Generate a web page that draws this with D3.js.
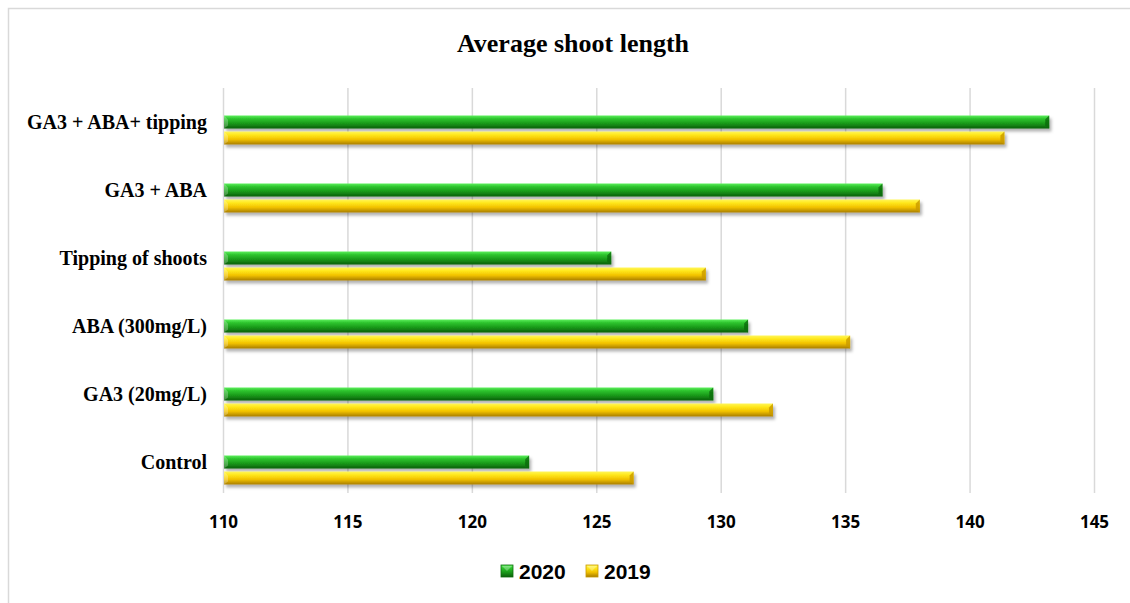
<!DOCTYPE html>
<html>
<head>
<meta charset="utf-8">
<script src="https://cdn.jsdelivr.net/npm/d3@7"></script>
<style>
  body { margin: 0; background: #fff; }
  svg { display: block; }
</style>
</head>
<body>
<svg id="chart"></svg>
<script>
const categories = ["GA3 + ABA+ tipping", "GA3 + ABA", "Tipping of shoots", "ABA (300mg/L)", "GA3 (20mg/L)", "Control"];
const values2020 = [143.2, 136.5, 125.6, 131.1, 129.7, 122.3];
const values2019 = [141.4, 138.0, 129.4, 135.2, 132.1, 126.5];
const xTicks = [110, 115, 120, 125, 130, 135, 140, 145];
const seriesNames = ["2020", "2019"];

const width = 1130;
const height = 603;
const margin = { top: 88, right: 36, bottom: 110, left: 223 };
const innerWidth = width - margin.left - margin.right;
const innerHeight = height - margin.top - margin.bottom;

const svg = d3.select("#chart").attr("width", width).attr("height", height);

// gradients for the shiny bars
const defs = svg.append("defs");
const grads = {
  g2020: [["0%", "#5ef05e"], ["25%", "#2cc42c"], ["60%", "#1a9a1a"], ["100%", "#0b5f0b"]],
  g2019: [["0%", "#fff65a"], ["25%", "#ffe81c"], ["60%", "#f2c200"], ["100%", "#a87d00"]]
};
Object.entries(grads).forEach(([id, stops]) => {
  const lg = defs.append("linearGradient").attr("id", id)
    .attr("x1", 0).attr("y1", 0).attr("x2", 0).attr("y2", 1);
  stops.forEach(([o, c]) => lg.append("stop").attr("offset", o).attr("stop-color", c));
});
defs.append("filter").attr("id", "shadow")
  .attr("x", "-5%").attr("y", "-50%").attr("width", "110%").attr("height", "220%")
  .append("feDropShadow")
  .attr("dx", 2).attr("dy", 3).attr("stdDeviation", 1.6)
  .attr("flood-color", "#000").attr("flood-opacity", 0.3);

// chart frame (runs off the right and bottom edge like the reference)
svg.append("path")
  .attr("d", `M8.5,${height} L8.5,8.5 L${width},8.5`)
  .attr("fill", "none").attr("stroke", "#d9d9d9").attr("stroke-width", 1.5);

svg.append("text")
  .attr("x", 573).attr("y", 52)
  .attr("text-anchor", "middle")
  .attr("font-family", "'Liberation Serif', 'Times New Roman', serif")
  .attr("font-weight", "bold")
  .attr("font-size", 26)
  .text("Average shoot length");

const x = d3.scaleLinear().domain([110, 145]).range([0, innerWidth]);
const y = d3.scaleBand().domain(categories).range([8, 416]).paddingInner(0).paddingOuter(0);

const g = svg.append("g").attr("transform", `translate(${margin.left},${margin.top})`);

// gridlines
const xAxis = d3.axisBottom(x).tickValues(xTicks).tickSize(-innerHeight).tickPadding(23).tickFormat(d => d);
const xAxisG = g.append("g").attr("transform", `translate(0,${innerHeight})`).call(xAxis);
xAxisG.select(".domain").remove();
xAxisG.selectAll(".tick line").attr("stroke", "#d9d9d9").attr("stroke-width", 1.5);
xAxisG.selectAll(".tick text")
  .attr("font-family", "'Open Sans', 'Liberation Sans', sans-serif")
  .attr("font-weight", "bold")
  .attr("font-size", 17)
  .attr("fill", "#000");

// category labels
const yAxis = d3.axisLeft(y).tickSize(0).tickPadding(16);
const yAxisG = g.append("g").call(yAxis);
yAxisG.select(".domain").remove();
yAxisG.selectAll(".tick text")
  .attr("y", -7)
  .attr("font-family", "'Liberation Serif', 'Times New Roman', serif")
  .attr("font-weight", "bold")
  .attr("font-size", 20)
  .attr("fill", "#000");

const barH = 13;
const gap = 3;
const series = [
  { name: seriesNames[0], values: values2020, grad: "g2020", cap: "#0d6a0d", off: -(barH + gap / 2) },
  { name: seriesNames[1], values: values2019, grad: "g2019", cap: "#c99a00", off: gap / 2 }
];

series.forEach(s => {
  const sg = g.append("g").attr("filter", "url(#shadow)");
  const rows = categories.map((c, i) => ({ c, v: s.values[i] }));
  sg.selectAll("rect")
    .data(rows)
    .enter()
    .append("rect")
    .attr("x", x(110) + 1)
    .attr("y", d => y(d.c) + y.bandwidth() / 2 + s.off)
    .attr("width", d => x(d.v) - x(110) - 1)
    .attr("height", barH)
    .attr("fill", `url(#${s.grad})`);
  // bevelled end of each bar
  sg.selectAll("path")
    .data(rows)
    .enter()
    .append("path")
    .attr("d", d => {
      const x1 = x(d.v);
      const y0 = y(d.c) + y.bandwidth() / 2 + s.off;
      return `M${x1 - 4},${y0 + 4} L${x1},${y0} L${x1},${y0 + barH} L${x1 - 4},${y0 + barH - 3} Z`;
    })
    .attr("fill", s.cap)
    .attr("opacity", 0.8);
  // left bevel
  sg.selectAll("path.l")
    .data(rows)
    .enter()
    .append("path")
    .attr("class", "l")
    .attr("d", d => {
      const x0 = x(110) + 1;
      const y0 = y(d.c) + y.bandwidth() / 2 + s.off;
      return `M${x0},${y0} L${x0 + 4},${y0 + 4} L${x0 + 4},${y0 + barH - 3} L${x0},${y0 + barH} Z`;
    })
    .attr("fill", "#ffffff")
    .attr("opacity", 0.25);
});

// legend
const legend = svg.append("g").attr("transform", "translate(501,571)");
const legendX = [0, 85];
series.forEach((s, i) => {
  const lg = legend.append("g").attr("transform", `translate(${legendX[i]},0)`);
  lg.append("rect").attr("x", 0).attr("y", -6).attr("width", 12).attr("height", 12)
    .attr("fill", `url(#${s.grad})`).attr("stroke", s.cap).attr("stroke-width", 0.8);
  lg.append("path").attr("d", "M1,-5 L6,0 L11,-5 Z").attr("fill", "#ffffff").attr("opacity", 0.3);
  lg.append("text")
    .attr("x", 18).attr("y", 0).attr("dy", "0.36em")
    .attr("font-family", "'Liberation Sans', Arial, sans-serif")
    .attr("font-weight", "bold")
    .attr("font-size", 21)
    .text(s.name);
});
</script>
</body>
</html>
